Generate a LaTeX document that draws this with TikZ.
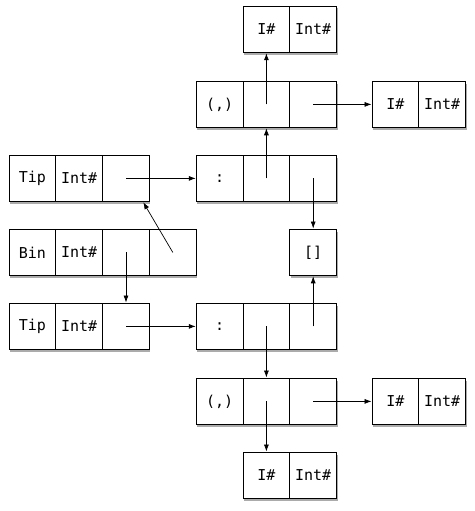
\documentclass[tikz,border=0pt]{standalone}
\usepackage{fontspec}
\setmonofont{DejaVu Sans Mono}
\usetikzlibrary{arrows.meta,shadows}
\begin{document}
\begin{tikzpicture}[x=1pt,y=-1pt,
  cell/.style={draw, fill=white, line width=0.9pt, minimum width=46.8pt, minimum height=46.8pt,
    inner sep=0pt, font=\ttfamily\fontsize{15}{17}\selectfont,
    drop shadow={shadow xshift=1pt, shadow yshift=-2.5pt, fill=black!60, opacity=0.55}},
  ptr/.style={line width=0.7pt, -{Latex[length=7pt,width=5pt]}}]
\useasboundingbox (0,0) rectangle (474,511);
% row 0
\node[cell] (t1) at (266.4,29.4) {I\#};
\node[cell] (t2) at (313.2,29.4) {Int\#};
% row 1
\node[cell] (p1) at (219.6,104.4) {(,)};
\node[cell] (p2) at (266.4,104.4) {};
\node[cell] (p3) at (313.2,104.4) {};
\node[cell] (r1) at (395.4,104.4) {I\#};
\node[cell] (r2) at (442.2,104.4) {Int\#};
% row 2
\node[cell] (a1) at (32.4,178.4) {Tip};
\node[cell] (a2) at (79.2,178.4) {Int\#};
\node[cell] (a3) at (126,178.4) {};
\node[cell] (c1) at (219.6,178.4) {:};
\node[cell] (c2) at (266.4,178.4) {};
\node[cell] (c3) at (313.2,178.4) {};
% row 3
\node[cell] (b1) at (32.4,252.4) {Bin};
\node[cell] (b2) at (79.2,252.4) {Int\#};
\node[cell] (b3) at (126,252.4) {};
\node[cell] (b4) at (172.8,252.4) {};
\node[cell] (n) at (313.2,252.4) {[]};
% row 4
\node[cell] (d1) at (32.4,326.4) {Tip};
\node[cell] (d2) at (79.2,326.4) {Int\#};
\node[cell] (d3) at (126,326.4) {};
\node[cell] (e1) at (219.6,326.4) {:};
\node[cell] (e2) at (266.4,326.4) {};
\node[cell] (e3) at (313.2,326.4) {};
% row 5
\node[cell] (q1) at (219.6,401.4) {(,)};
\node[cell] (q2) at (266.4,401.4) {};
\node[cell] (q3) at (313.2,401.4) {};
\node[cell] (s1) at (395.4,401.4) {I\#};
\node[cell] (s2) at (442.2,401.4) {Int\#};
% row 6
\node[cell] (u1) at (266.4,475.4) {I\#};
\node[cell] (u2) at (313.2,475.4) {Int\#};
\coordinate (bt) at ([xshift=-6.6pt]a3.south east);
% pointers
\draw[ptr] (a3.center) -- (c1.west);
\draw[ptr] (c2.center) -- (p2.south);
\draw[ptr] (p2.center) -- (t1.south);
\draw[ptr] (p3.center) -- (r1.west);
\draw[ptr] (c3.center) -- (n.north);
\draw[ptr] (b3.center) -- (d3.north);
\draw[ptr] (b4.center) -- (bt);
\draw[ptr] (d3.center) -- (e1.west);
\draw[ptr] (e3.center) -- (n.south);
\draw[ptr] (e2.center) -- (q2.north);
\draw[ptr] (q3.center) -- (s1.west);
\draw[ptr] (q2.center) -- (u1.north);
\end{tikzpicture}
\end{document}
